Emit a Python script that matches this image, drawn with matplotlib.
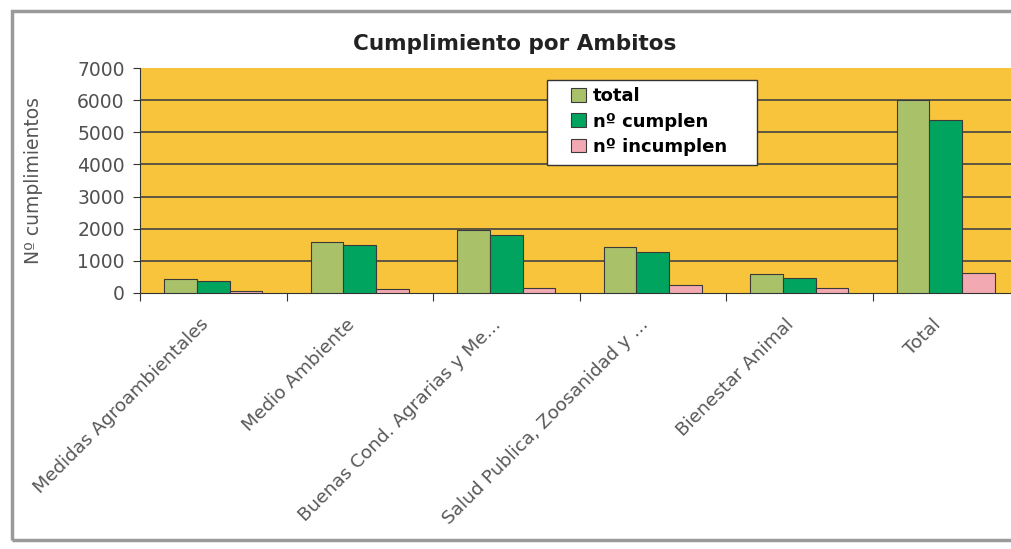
import numpy as np
import matplotlib
matplotlib.use('Agg')
import matplotlib.pyplot as plt
import matplotlib.transforms as mtransforms
from matplotlib.patches import Rectangle

# Data.
categories = ['Medidas Agroambientales', 'Medio Ambiente', 'Buenas Cond. Agrarias y Me...',
	'Salud Publica, Zoosanidad y ...', 'Bienestar Animal', 'Total']
total = [430, 1600, 1960, 1440, 590, 6000]
cumplen = [380, 1500, 1800, 1290, 460, 5390]
incumplen = [55, 130, 150, 240, 170, 615]
series_names = ['total', 'nº cumplen', 'nº incumplen']
yticks = [0, 1000, 2000, 3000, 4000, 5000, 6000, 7000]

colors = ['#A9C26A', '#00A45E', '#F2A9B2']
bg = '#F8C43C'

fig = plt.figure(figsize=(10.11, 5.49), dpi=100)
W, H = 1011.0, 549.0

# Chart frame.
fig.patches.append(Rectangle((12 / W, 1 - 540 / H), 1.2, (540 - 11) / H, transform=fig.transFigure,
	fill=False, edgecolor='#9a9a9a', linewidth=2.5))

ax_w = 1019 - 140
ax = fig.add_axes([140 / W, 1 - 293 / H, ax_w / W, (293 - 68) / H])
ax.set_facecolor(bg)

x = np.arange(len(categories))
w = 0.222
for i, (vals, name) in enumerate(zip([total, cumplen, incumplen], series_names)):
	ax.bar(x + (i - 1) * w, vals, w, color=colors[i], edgecolor='#3a3a3a', linewidth=0.8, label=name, zorder=3)

ax.set_xlim(-0.5, len(categories) - 0.5)
ax.set_ylim(0, 7000)
ax.set_yticks(yticks)
ax.set_yticklabels([str(v) for v in yticks], fontsize=13.5, color='#505050')
for v in yticks[1:-1]:
	ax.axhline(v, color='#444444', linewidth=1.2, zorder=1)

# Category boundaries as ticks, labels in the middle.
ax.set_xticks(np.arange(len(categories) + 1) - 0.5)
ax.set_xticklabels([])
ax.set_xticks(x, minor=True)
ax.set_xticklabels(categories, minor=True, rotation=45, ha='right', rotation_mode='anchor',
	fontsize=13.3, color='#585858')
ax.tick_params(axis='x', which='minor', length=0, pad=16)
ax.tick_params(axis='x', which='major', length=6, color='#333333', direction='out')
ax.tick_params(axis='y', length=5, color='#333333', direction='out', pad=6)
shift = mtransforms.ScaledTranslation(-14 / 100.0, 0, fig.dpi_scale_trans)
for lbl in ax.get_xticklabels(minor=True):
	lbl.set_transform(lbl.get_transform() + shift)

for s in ['top', 'right']:
	ax.spines[s].set_visible(False)
ax.spines['left'].set_color('#333333')
ax.spines['bottom'].set_color('#333333')

ax.set_ylabel('Nº cumplimientos', fontsize=13.5, color='#555555')
ax.yaxis.set_label_coords(-(140 - 43) / ax_w, 0.5)

fig.text(515 / W, 1 - 44 / H, 'Cumplimiento por Ambitos', ha='center', va='center',
	fontsize=15.5, fontweight='bold', color='#222222')

# Legend box drawn separately so the entries can sit inset like the original.
ax.add_patch(Rectangle(((547 - 140) / ax_w, (293 - 165) / 225.0), 210.0 / ax_w, 85 / 225.0,
	transform=ax.transAxes, facecolor='white', edgecolor='#333333', linewidth=1.0, zorder=5))
leg = ax.legend(loc='upper left', bbox_to_anchor=((566 - 140) / ax_w, (293 - 82) / 225.0),
	frameon=False, prop={'weight': 'bold', 'size': 13}, handlelength=0.8, handleheight=0.8,
	handletextpad=0.4, labelspacing=0.4, borderpad=0.3, borderaxespad=0)
leg.set_zorder(6)

fig.savefig('out.png', dpi=100)
plt.close(fig)
